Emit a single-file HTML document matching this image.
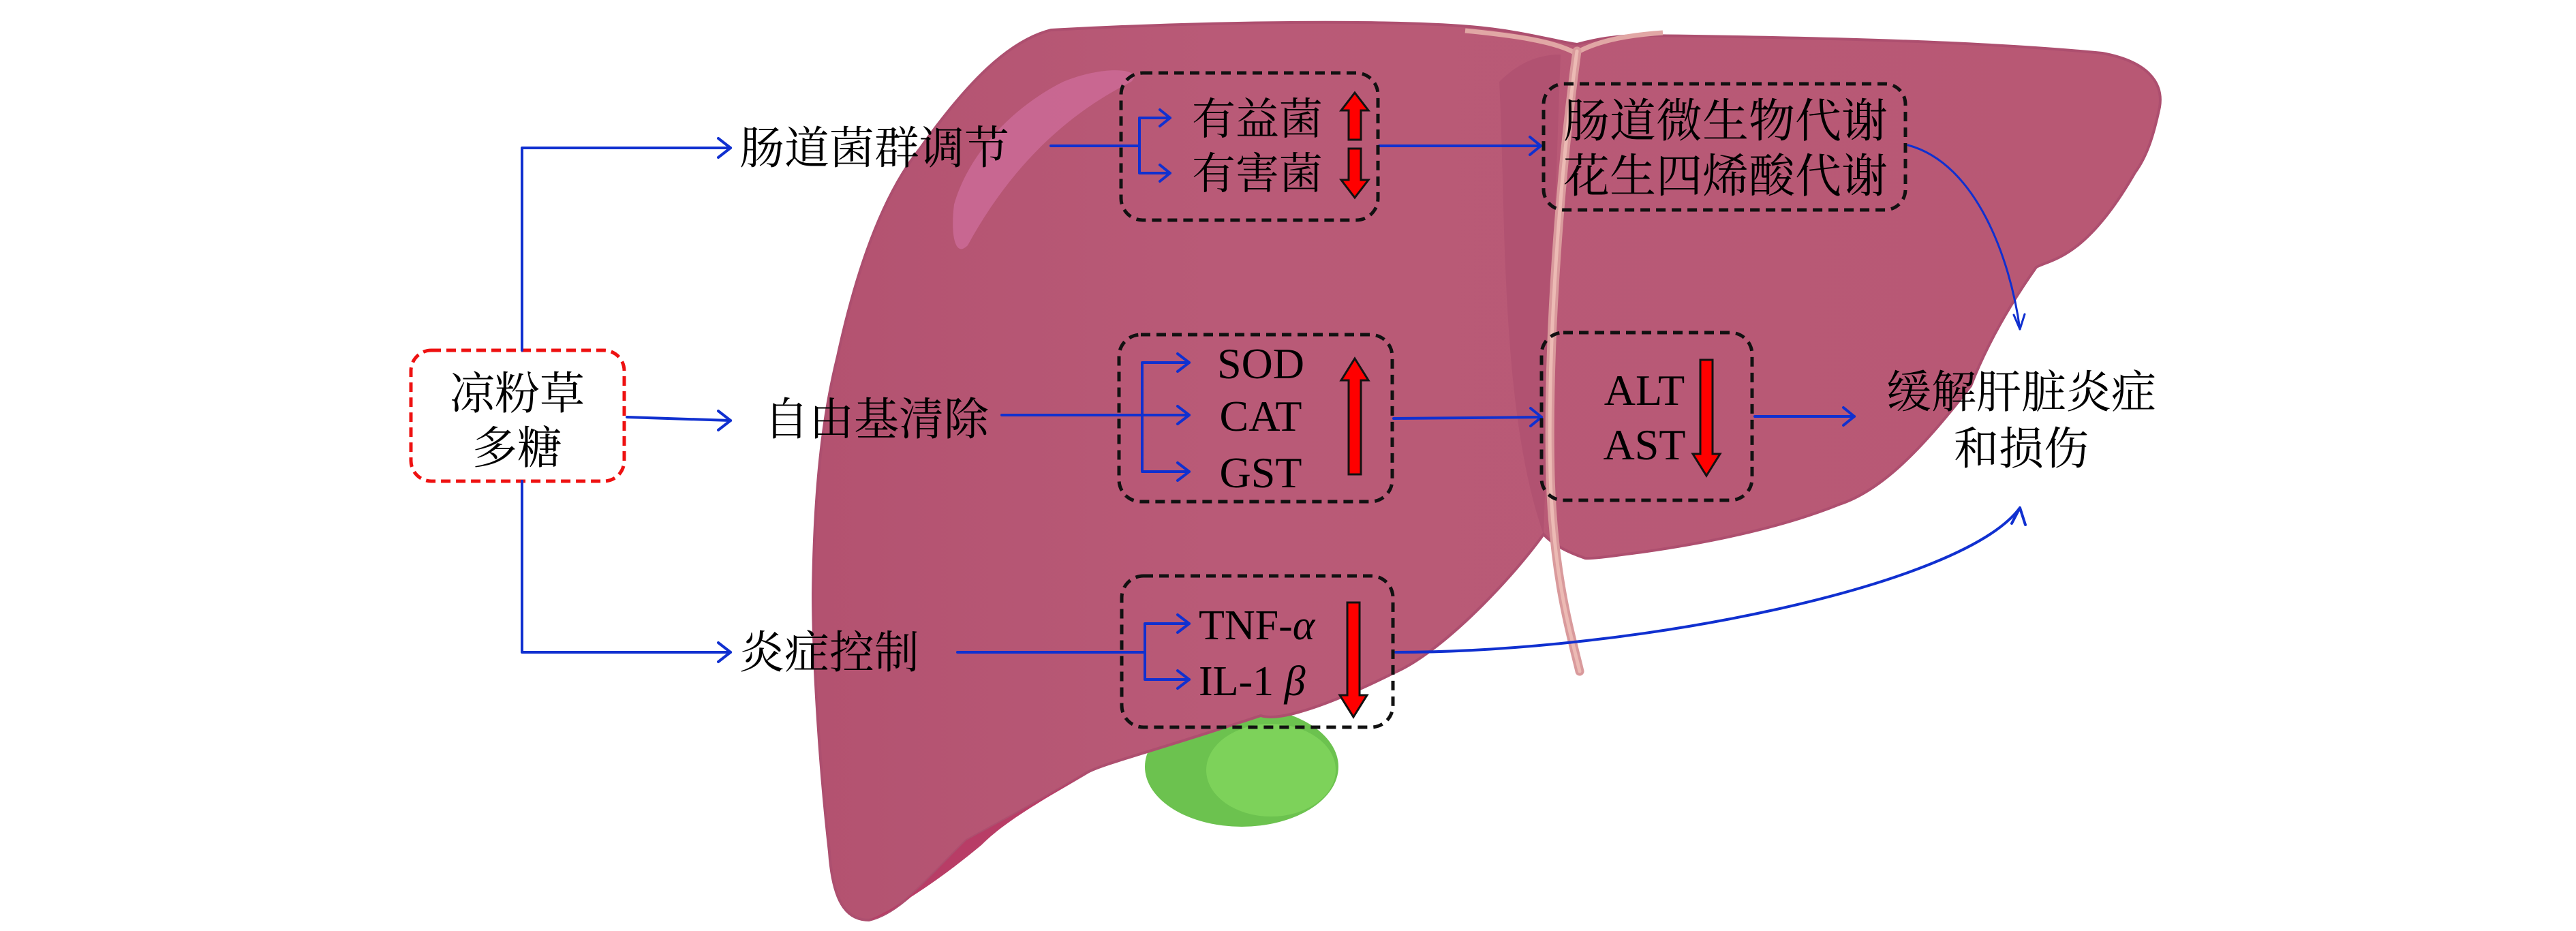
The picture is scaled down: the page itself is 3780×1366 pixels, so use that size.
<!DOCTYPE html>
<html><head><meta charset="utf-8"><style>
html,body{margin:0;padding:0;background:#fff;}
svg{display:block}
text{font-family:"Liberation Serif","Noto Serif CJK SC",serif;fill:#000;}
</style></head><body>
<svg width="3780" height="1366" viewBox="0 0 3780 1366" xmlns="http://www.w3.org/2000/svg">
<defs>
<linearGradient id="lv" x1="0" y1="0" x2="1" y2="0">
<stop offset="0" stop-color="#b35270"/><stop offset="0.3" stop-color="#b95a77"/><stop offset="1" stop-color="#b85874"/>
</linearGradient>
</defs>
<!-- gallbladder -->
<ellipse cx="1822" cy="1125" rx="142" ry="88" fill="#6cc24f"/>
<ellipse cx="1865" cy="1130" rx="95" ry="68" fill="#7dd25a"/>
<!-- liver -->
<path d="M1542,44 C1800,30 2050,30 2157,39 C2230,45 2280,60 2314,65 C2340,58 2370,52 2410,52 C2650,55 2900,60 3085,78 C3150,90 3175,120 3169,157 C3160,200 3150,230 3133,253 C3060,380 3010,380 2988,392 C2940,460 2910,520 2892,566 C2820,660 2760,720 2699,740 C2600,780 2480,800 2410,810 C2370,815 2340,820 2326,819 C2300,810 2280,800 2265,784 C2210,860 2110,960 2046,987 C1960,1030 1880,1060 1850,1050 C1700,1100 1620,1120 1596,1133 C1500,1190 1460,1210 1418,1233 C1360,1290 1320,1340 1275,1350 C1240,1350 1222,1320 1217,1250 C1200,1100 1193,950 1193,871 C1195,700 1210,600 1229,523 C1260,380 1300,280 1350,218 C1420,120 1480,60 1542,44 Z" fill="url(#lv)" stroke="#ad4f6f" stroke-width="4"/>
<path d="M1275,1350 C1320,1340 1360,1290 1418,1233 C1460,1210 1500,1190 1596,1133 C1540,1170 1480,1200 1440,1240 C1380,1290 1320,1330 1275,1350 Z" fill="#b83d66"/>
<path d="M1400,300 C1420,230 1480,160 1560,120 C1620,95 1680,100 1660,120 C1560,170 1480,250 1420,360 C1400,380 1395,340 1400,300 Z" fill="#cd6c98" opacity="0.8"/>
<path d="M2265,784 C2200,600 2210,300 2200,120 C2230,90 2260,80 2290,80 L2265,784 Z" fill="#a84a6c" opacity="0.45"/>
<!-- falciform -->
<path d="M2150,45 C2220,52 2280,60 2312,78 C2340,62 2380,52 2440,48" fill="none" stroke="#e1a7a5" stroke-width="7"/>
<path d="M2314,75 C2290,250 2270,500 2275,700 C2280,850 2305,930 2318,985" fill="none" stroke="#d99a9c" stroke-width="13" stroke-linecap="round"/>
<path d="M2314,75 C2290,250 2270,500 2275,700 C2280,850 2305,930 2318,985" fill="none" stroke="#ecbab4" stroke-width="5" stroke-linecap="round"/>

<rect x="603" y="514" width="313" height="192" rx="30" fill="#fff" stroke="#e11" stroke-width="5" stroke-dasharray="14,8"/>
<text x="759" y="600" font-size="66" text-anchor="middle">凉粉草</text>
<text x="759" y="680" font-size="66" text-anchor="middle">多糖</text>

<g fill="none" stroke="#1030d0" stroke-width="4" stroke-linecap="round" stroke-linejoin="round">
<path d="M766,514 V217 H1072"/><path d="M1054,203 L1072,217 L1054,231"/>
<path d="M920,612 L1072,617"/><path d="M1054,603 L1072,617 L1054,631"/>
<path d="M766,706 V957 H1072"/><path d="M1054,943 L1072,957 L1054,971"/>
<path d="M1542,214 H1672"/><path d="M1717,173 H1672 V254 H1717"/>
<path d="M1702,161 L1717,173 L1702,185"/><path d="M1702,242 L1717,254 L1702,266"/>
<path d="M2024,214 H2261"/><path d="M2245,201 L2261,214 L2245,227"/>
<path d="M1470,609 H1676"/><path d="M1745,532 H1676 V692 H1745"/><path d="M1676,609 H1745"/>
<path d="M1728,519 L1745,532 L1728,545"/><path d="M1728,596 L1745,609 L1728,622"/><path d="M1728,679 L1745,692 L1728,705"/>
<path d="M2045,614 L2262,612"/><path d="M2246,599 L2262,612 L2246,625"/>
<path d="M2575,611 H2721"/><path d="M2705,598 L2721,611 L2705,624"/>
<path d="M1405,957 H1680"/><path d="M1745,915 H1680 V997 H1745"/>
<path d="M1728,902 L1745,915 L1728,928"/><path d="M1728,984 L1745,997 L1728,1010"/>
<path d="M2048,957 C2400,957 2880,860 2964,745"/><path d="M2952,768 L2964,745 L2972,770"/>
<path d="M2800,213 C2900,240 2950,380 2964,483" stroke-width="3"/><path d="M2955,462 L2964,483 L2971,461" stroke-width="3"/>
</g>

<g fill="none" stroke="#111" stroke-width="5" stroke-dasharray="14,9">
<rect x="1645" y="107" width="377" height="216" rx="32"/>
<rect x="2265" y="123" width="531" height="185" rx="30"/>
<rect x="1642" y="491" width="401" height="245" rx="32"/>
<rect x="2262" y="488" width="309" height="246" rx="32"/>
<rect x="1646" y="845" width="398" height="222" rx="32"/>
</g>

<text x="1085" y="240" font-size="66">肠道菌群调节</text>
<text x="1121" y="638" font-size="66">自由基清除</text>
<text x="1085" y="980" font-size="66">炎症控制</text>
<text x="1749" y="197" font-size="64">有益菌</text>
<text x="1749" y="277" font-size="64">有害菌</text>
<text x="2294" y="201" font-size="68">肠道微生物代谢</text>
<text x="2294" y="282" font-size="68">花生四烯酸代谢</text>
<text x="1850" y="555" font-size="64" text-anchor="middle">SOD</text>
<text x="1850" y="632" font-size="64" text-anchor="middle">CAT</text>
<text x="1850" y="715" font-size="64" text-anchor="middle">GST</text>
<text x="2413" y="594" font-size="64" text-anchor="middle">ALT</text>
<text x="2413" y="674" font-size="64" text-anchor="middle">AST</text>
<text x="1759" y="938" font-size="62">TNF-<tspan font-style="italic">α</tspan></text>
<text x="1759" y="1020" font-size="62">IL-1 <tspan font-style="italic">β</tspan></text>
<text x="2966" y="598" font-size="66" text-anchor="middle">缓解肝脏炎症</text>
<text x="2966" y="681" font-size="66" text-anchor="middle">和损伤</text>

<g fill="#f00" stroke="#111" stroke-width="3" stroke-linejoin="miter">
<path d="M1988,136 L2008,162 L1997,162 L1997,205 L1979,205 L1979,162 L1968,162 Z"/>
<path d="M1988,290 L2008,264 L1997,264 L1997,218 L1979,218 L1979,264 L1968,264 Z"/>
<path d="M1988,526 L2008,558 L1997,558 L1997,696 L1979,696 L1979,558 L1968,558 Z"/>
<path d="M2504,698 L2524,666 L2513,666 L2513,528 L2495,528 L2495,666 L2484,666 Z"/>
<path d="M1986,1052 L2006,1020 L1995,1020 L1995,884 L1977,884 L1977,1020 L1966,1020 Z"/>
</g>
</svg>
</body></html>
